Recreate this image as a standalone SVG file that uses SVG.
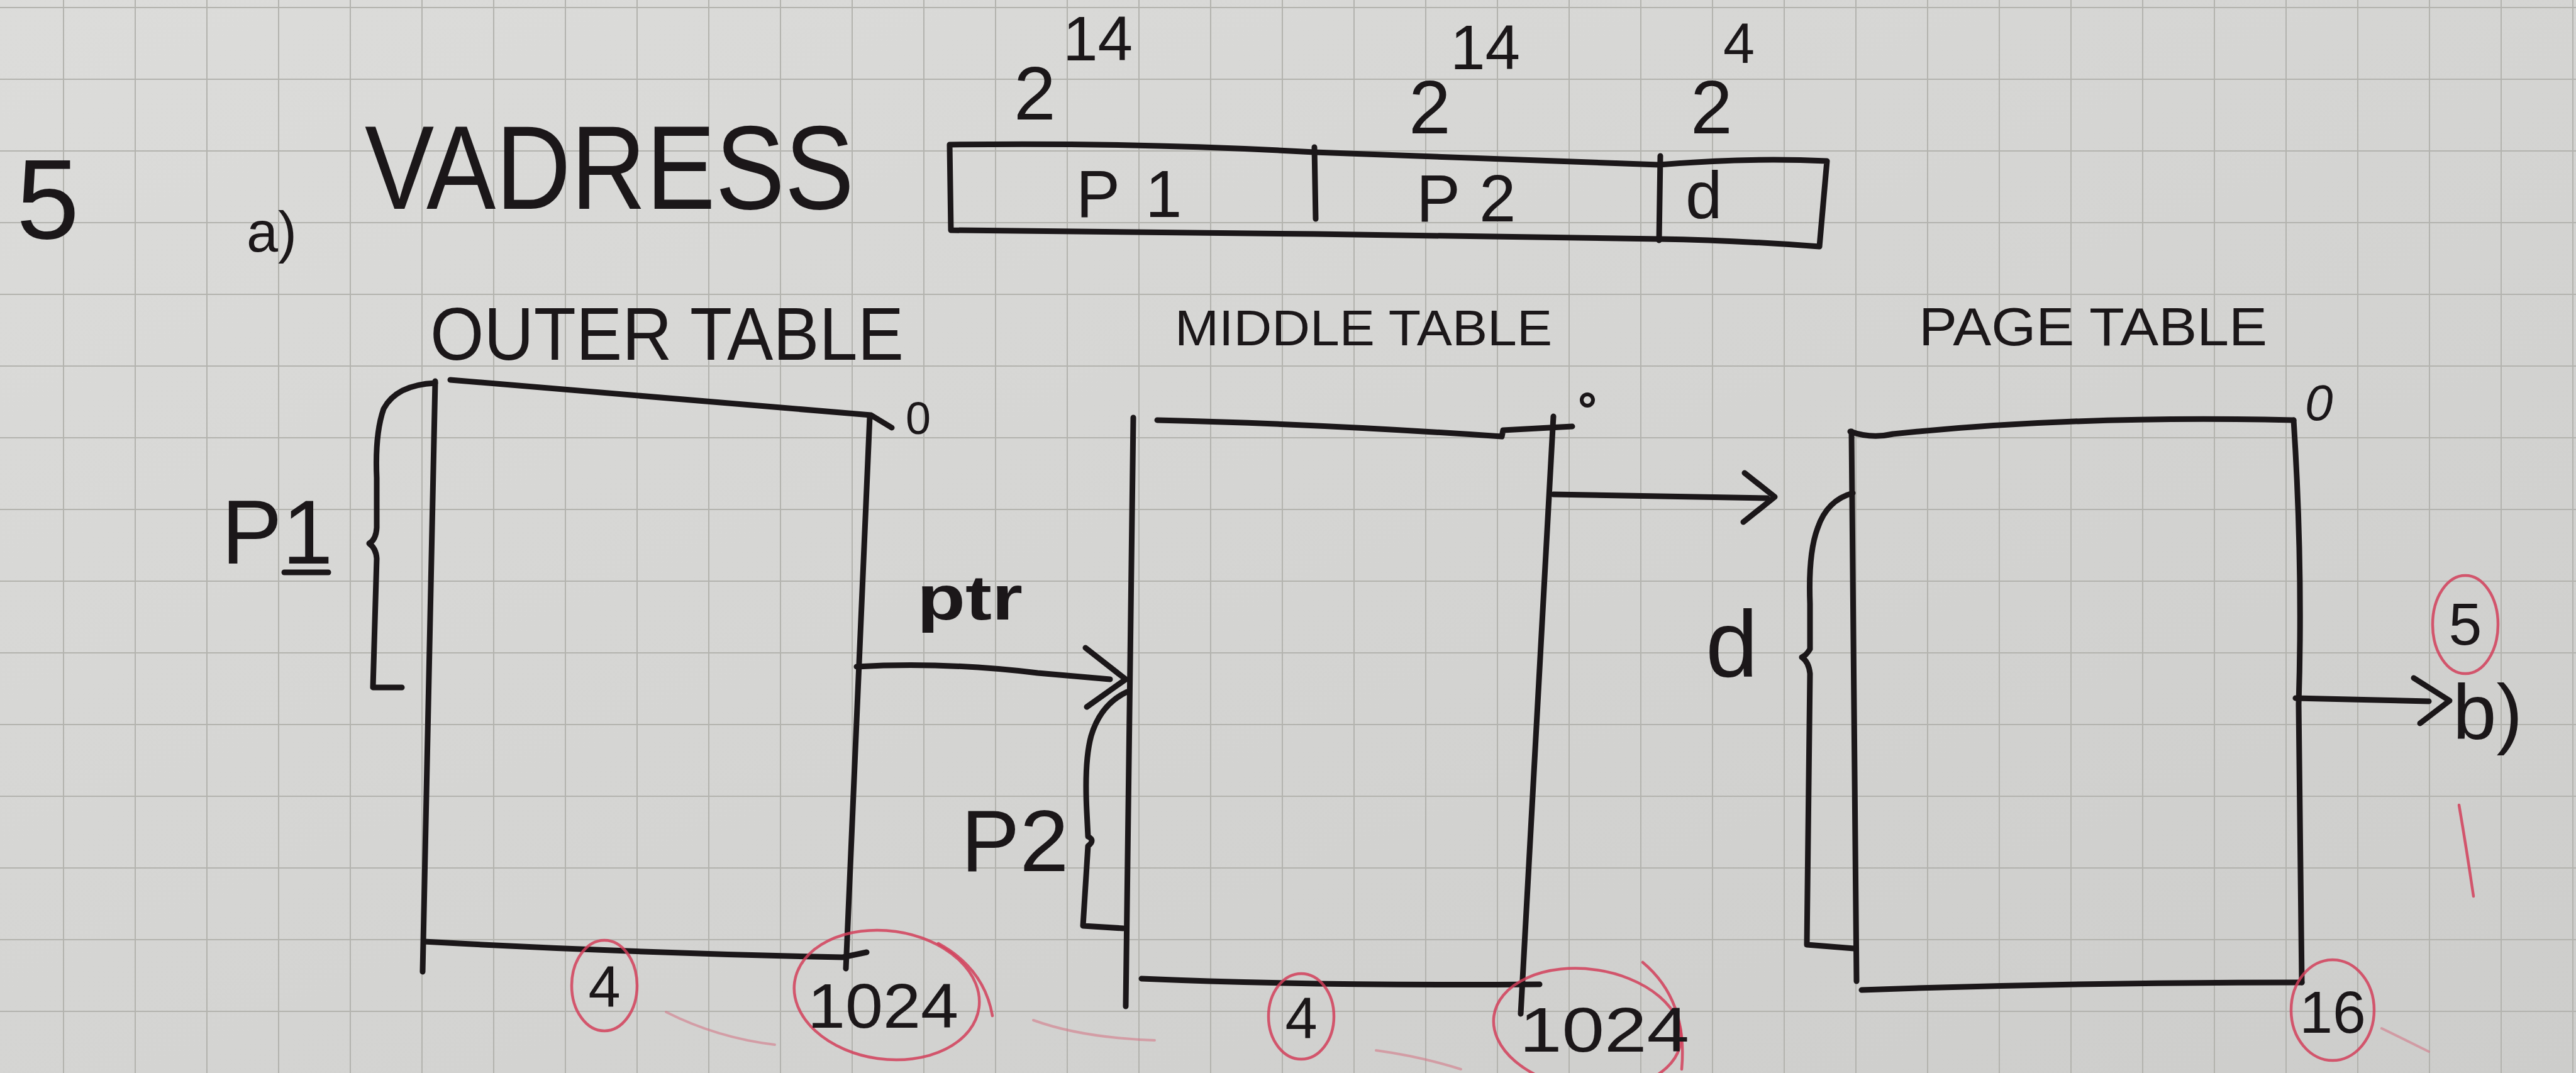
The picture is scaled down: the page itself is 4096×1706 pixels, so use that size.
<svg xmlns="http://www.w3.org/2000/svg" width="4096" height="1706" viewBox="0 0 4096 1706">
<defs>
<linearGradient id="paper" x1="0" y1="0" x2="1" y2="1">
<stop offset="0" stop-color="#dcdcda"/>
<stop offset="1" stop-color="#cdcdcb"/>
</linearGradient>
<pattern id="grid" x="100" y="11" width="114" height="114" patternUnits="userSpaceOnUse">
<path d="M0,0 L0,114 M0,0 L114,0" fill="none" stroke="#b3b3ae" stroke-width="4"/>
</pattern>
<style>
.ink{fill:none;stroke:#1b1719;stroke-width:9;stroke-linecap:round;stroke-linejoin:round}
.red{fill:none;stroke:#d2405a;stroke-width:4.5;stroke-linecap:round;opacity:0.85}
.faint{fill:none;stroke:#d47a88;stroke-width:4;stroke-linecap:round;opacity:0.6}
.t{font-family:"Liberation Sans",Arial,sans-serif;fill:#1b1719}
</style>
</defs>
<rect width="4096" height="1706" fill="url(#paper)"/>
<rect width="4096" height="1706" fill="url(#grid)"/>

<g id="heading">
<text class="t" x="26" y="379" font-size="180">5</text>
<text class="t" x="392" y="400" font-size="90">a)</text>
<text class="t" x="580" y="332" font-size="190" textLength="778" lengthAdjust="spacingAndGlyphs">VADRESS</text>
</g>

<g id="address">
<path class="ink" d="M1510,230 Q1800,226 2090,242 Q2400,254 2638,262 Q2780,250 2905,256 L2893,392 Q2760,382 2638,380 Q2300,376 2090,372 Q1800,368 1512,366 Z"/>
<path class="ink" d="M2090,234 L2092,348"/>
<path class="ink" d="M2640,248 L2638,382"/>
<text class="t" x="1711" y="345" font-size="105" letter-spacing="40">P1</text>
<text class="t" x="2252" y="352" font-size="105" letter-spacing="30">P2</text>
<text class="t" x="2680" y="347" font-size="105">d</text>
<text class="t" x="1612" y="190" font-size="120">2</text>
<text class="t" x="1690" y="96" font-size="100">14</text>
<text class="t" x="2240" y="212" font-size="120">2</text>
<text class="t" x="2306" y="110" font-size="100">14</text>
<text class="t" x="2688" y="212" font-size="120">2</text>
<text class="t" x="2740" y="100" font-size="90">4</text>
</g>

<g id="outer-table">
<text class="t" x="684" y="572" font-size="118" textLength="753" lengthAdjust="spacingAndGlyphs">OUTER TABLE</text>
<path class="ink" d="M692,606 L672,1545"/>
<path class="ink" d="M716,604 Q1000,628 1385,660 L1418,680"/>
<path class="ink" d="M1383,662 L1345,1540"/>
<path class="ink" d="M674,1497 Q1000,1515 1340,1522 L1378,1514"/>
<path class="ink" d="M692,609 Q630,612 610,650 Q596,690 599,760 L599,839 Q598,858 587,864 Q598,872 599,888 L593,1093 L639,1093"/>
<text class="t" x="1440" y="690" font-size="72">0</text>
<text class="t" x="352" y="896" font-size="145">P1</text>
<path class="ink" d="M452,910 L522,910"/>
<ellipse class="red" cx="961" cy="1567" rx="52" ry="72"/>
<text class="t" x="961" y="1600" font-size="92" text-anchor="middle">4</text>
<ellipse class="red" cx="1410" cy="1582" rx="148" ry="102" transform="rotate(8 1410 1582)"/>
<path class="red" d="M1492,1500 Q1565,1540 1578,1615"/>
<text class="t" x="1284" y="1634" font-size="100" textLength="240" lengthAdjust="spacingAndGlyphs">1024</text>
</g>

<g id="middle-table">
<text class="t" x="1868" y="549" font-size="80" textLength="600" lengthAdjust="spacingAndGlyphs">MIDDLE TABLE</text>
<path class="ink" d="M1802,664 L1790,1600"/>
<path class="ink" d="M1840,668 Q2100,674 2388,694 L2390,684 L2500,678"/>
<path class="ink" d="M2470,662 L2418,1612"/>
<path class="ink" d="M1815,1556 Q2100,1568 2448,1565"/>
<circle cx="2524" cy="636" r="9" fill="none" stroke="#1b1719" stroke-width="6"/>
<path class="ink" d="M1792,1100 Q1750,1120 1735,1170 Q1724,1210 1728,1290 L1730,1330 Q1742,1336 1730,1345 L1722,1472 L1786,1476"/>
<text class="t" x="1528" y="1385" font-size="140">P2</text>
<ellipse class="red" cx="2069" cy="1616" rx="52" ry="68"/>
<text class="t" x="2069" y="1650" font-size="92" text-anchor="middle">4</text>
<ellipse class="red" cx="2524" cy="1636" rx="150" ry="95" transform="rotate(8 2524 1636)"/>
<path class="red" d="M2612,1530 Q2684,1590 2674,1700"/>
<text class="t" x="2416" y="1672" font-size="100" textLength="270" lengthAdjust="spacingAndGlyphs">1024</text>
</g>

<g id="page-table">
<text class="t" x="3051" y="549" font-size="85" textLength="554" lengthAdjust="spacingAndGlyphs">PAGE TABLE</text>
<path class="ink" d="M2942,686 Q2975,698 3010,690 Q3300,660 3647,668"/>
<path class="ink" d="M2944,686 L2952,1560"/>
<path class="ink" d="M3647,668 Q3662,900 3655,1120 L3660,1562"/>
<path class="ink" d="M2960,1574 Q3300,1562 3660,1562"/>
<path class="ink" d="M2946,784 Q2905,795 2890,840 Q2875,880 2878,960 L2878,1032 Q2872,1042 2865,1045 Q2876,1052 2878,1071 L2873,1502 L2948,1508"/>
<text class="t" x="3665" y="668" font-size="80" font-style="italic">0</text>
<text class="t" x="2712" y="1076" font-size="150">d</text>
<ellipse class="red" cx="3709" cy="1606" rx="66" ry="80"/>
<text class="t" x="3709" y="1642" font-size="95" text-anchor="middle">16</text>
<path class="faint" d="M3787,1635 L3862,1672"/>
</g>

<g id="answer-b">
<text class="t" x="3900" y="1175" font-size="125">b)</text>
<ellipse class="red" cx="3920" cy="993" rx="52" ry="78"/>
<text class="t" x="3920" y="1025" font-size="95" text-anchor="middle">5</text>
<path class="red" d="M3910,1280 Q3922,1350 3933,1425"/>
</g>

<g id="connectors">
<path class="ink" d="M1362,1060 Q1500,1052 1650,1070 L1765,1080"/>
<path class="ink" d="M1726,1030 L1790,1080 L1728,1124"/>
<text class="t" x="1458" y="985" font-size="100" font-weight="bold" textLength="168" lengthAdjust="spacingAndGlyphs">ptr</text>
<path class="ink" d="M2470,786 L2810,792"/>
<path class="ink" d="M2774,752 L2822,790 L2772,830"/>
<path class="ink" d="M3650,1110 L3862,1115"/>
<path class="ink" d="M3838,1078 L3895,1114 L3848,1150"/>
</g>

<g id="marks">
<path class="faint" d="M1059,1609 Q1140,1650 1232,1661"/>
<path class="faint" d="M1643,1622 Q1720,1650 1836,1654"/>
<path class="faint" d="M2188,1670 Q2260,1680 2323,1700"/>
</g>
</svg>
